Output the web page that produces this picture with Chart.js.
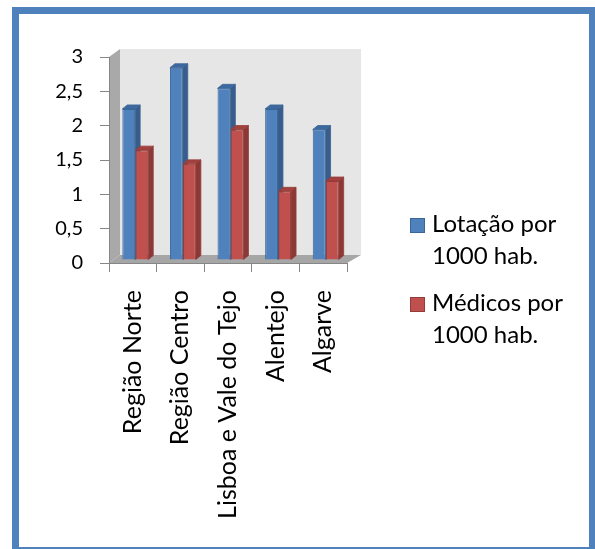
<!DOCTYPE html>
<html lang="pt">
<head>
<meta charset="utf-8">
<title>Lotação e médicos por 1000 habitantes</title>
<script src="https://cdn.jsdelivr.net/npm/chart.js@4.4.1/dist/chart.umd.min.js"></script>
<style>
  html, body { margin: 0; padding: 0; background: #fff; overflow: hidden; }
  #moldura { position: absolute; left: 12px; top: 7px; width: 584px; height: 547px; box-sizing: border-box; border: 7px solid #4f81bd; }
  #grafico { position: absolute; left: 0; top: 0; }
</style>
</head>
<body>
<div id="moldura"></div>
<canvas id="grafico" width="595" height="549"></canvas>
<script>
'use strict';

// dados por região
const regioes = ['Região Norte', 'Região Centro', 'Lisboa e Vale do Tejo', 'Alentejo', 'Algarve'];
const lotacao = [2.2, 2.8, 2.5, 2.2, 1.9];
const medicos = [1.6, 1.4, 1.9, 1.0, 1.15];
const nomesSeries = ['Lotação por\n1000 hab.', 'Médicos por\n1000 hab.'];
const marcasY = [0, 0.5, 1, 1.5, 2, 2.5, 3];

const FONTE = 'Lato';
const CINZA_EIXO = '#868686';

// profundidade das paredes e das barras (px)
const PAREDE = { dxL: 11, dxR: 14, dy: -8 };
const BARRA = { ox: 2.5, oy: -3, dx: 5, dy: -4 };
const LEGENDA = { x: 410, y: 218, passo: 79, entrelinha: 32 };

function poligono(ctx, pts, traco) {
  ctx.beginPath();
  pts.forEach(([x, y], i) => (i ? ctx.lineTo(x, y) : ctx.moveTo(x, y)));
  ctx.closePath();
  ctx.fill();
  if (traco) ctx.stroke();
}

function facesBarras(ctx, meta, ds) {
  ctx.lineWidth = 0.8;
  ctx.strokeStyle = ds.borderColor;
  meta.data.forEach(bar => {
    const { x, y, base, width } = bar.getProps(['x', 'y', 'base', 'width'], true);
    const l = x - width / 2, r = x + width / 2;
    ctx.fillStyle = ds.corLado;
    poligono(ctx, [[r, y], [r + BARRA.dx, y + BARRA.dy], [r + BARRA.dx, base + BARRA.dy], [r, base]], true);
    ctx.fillStyle = ds.corTopo;
    poligono(ctx, [[l, y], [l + BARRA.dx, y + BARRA.dy], [r + BARRA.dx, y + BARRA.dy], [r, y]], true);
  });
}

// paredes, chão e barras com profundidade
const efeito3d = {
  id: 'efeito3d',
  beforeDraw(chart) {
    const { ctx, chartArea: a } = chart;
    const { dxL, dxR, dy } = PAREDE;
    ctx.save();
    ctx.fillStyle = '#e6e6e6';
    ctx.fillRect(a.left + dxL, a.top + dy, (a.right + dxR) - (a.left + dxL), a.bottom - a.top);
    ctx.fillStyle = '#a9a9a9';
    poligono(ctx, [[a.left, a.bottom], [a.left, a.top], [a.left + dxL, a.top + dy], [a.left + dxL, a.bottom + dy]]);
    ctx.fillStyle = '#a6a6a6';
    poligono(ctx, [[a.left, a.bottom], [a.right, a.bottom], [a.right + dxR, a.bottom + dy], [a.left + dxL, a.bottom + dy]]);
    ctx.restore();
  },
  // o Chart.js desenha as séries da última para a primeira; aqui a ordem é invertida
  // para que a barra da direita tape a face lateral da barra da esquerda
  beforeDatasetDraw() {
    return false;
  },
  afterDatasetsDraw(chart) {
    const ctx = chart.ctx;
    chart.data.datasets.forEach((ds, i) => {
      const meta = chart.getDatasetMeta(i);
      ctx.save();
      ctx.translate(BARRA.ox, BARRA.oy);
      meta.controller.draw();
      facesBarras(ctx, meta, ds);
      ctx.restore();
    });
  }
};

const legenda = {
  id: 'legenda',
  afterDraw(chart) {
    const ctx = chart.ctx;
    ctx.save();
    ctx.font = `24px ${FONTE}`;
    ctx.textBaseline = 'alphabetic';
    chart.data.datasets.forEach((ds, i) => {
      const topo = LEGENDA.y + i * LEGENDA.passo;
      ctx.fillStyle = ds.backgroundColor;
      ctx.fillRect(LEGENDA.x, topo, 15, 15);
      ctx.strokeStyle = ds.borderColor;
      ctx.lineWidth = 1;
      ctx.strokeRect(LEGENDA.x + 0.5, topo + 0.5, 14, 14);
      ctx.fillStyle = '#000';
      ds.label.split('\n').forEach((linha, j) => ctx.fillText(linha, LEGENDA.x + 22, topo + 14 + j * LEGENDA.entrelinha));
    });
    ctx.restore();
  }
};

new Chart(document.getElementById('grafico'), {
  type: 'bar',
  data: {
    labels: regioes,
    datasets: [
      { label: nomesSeries[0], data: lotacao, backgroundColor: '#4f81bd', borderColor: '#3a6595', corLado: '#385d8a', corTopo: '#3d69a0', borderWidth: 1 },
      { label: nomesSeries[1], data: medicos, backgroundColor: '#c0504d', borderColor: '#943c39', corLado: '#8c3836', corTopo: '#a3413e', borderWidth: 1 }
    ]
  },
  options: {
    responsive: false,
    animation: false,
    events: [],
    categoryPercentage: 0.55,
    barPercentage: 0.98,
    layout: { padding: { left: 50, top: 57, right: 248, bottom: 0 } },
    plugins: { legend: { display: false }, tooltip: { enabled: false } },
    scales: {
      x: {
        afterFit(scale) { scale.height = 286; },
        grid: { drawOnChartArea: false, tickLength: 9, color: CINZA_EIXO },
        border: { color: CINZA_EIXO },
        ticks: { autoSkip: false, minRotation: 90, maxRotation: 90, padding: 18, color: '#000', font: { family: FONTE, size: 25 } }
      },
      y: {
        min: 0,
        max: 3,
        afterFit(scale) { scale.width = 59; },
        afterBuildTicks(scale) { scale.ticks = marcasY.map(v => ({ value: v })); },
        grid: { drawOnChartArea: false, tickLength: 9, color: CINZA_EIXO },
        border: { color: CINZA_EIXO },
        ticks: { padding: 17, color: '#000', font: { family: FONTE, size: 20 }, callback: v => String(v).replace('.', ',') }
      }
    }
  },
  plugins: [efeito3d, legenda]
});
</script>
</body>
</html>
